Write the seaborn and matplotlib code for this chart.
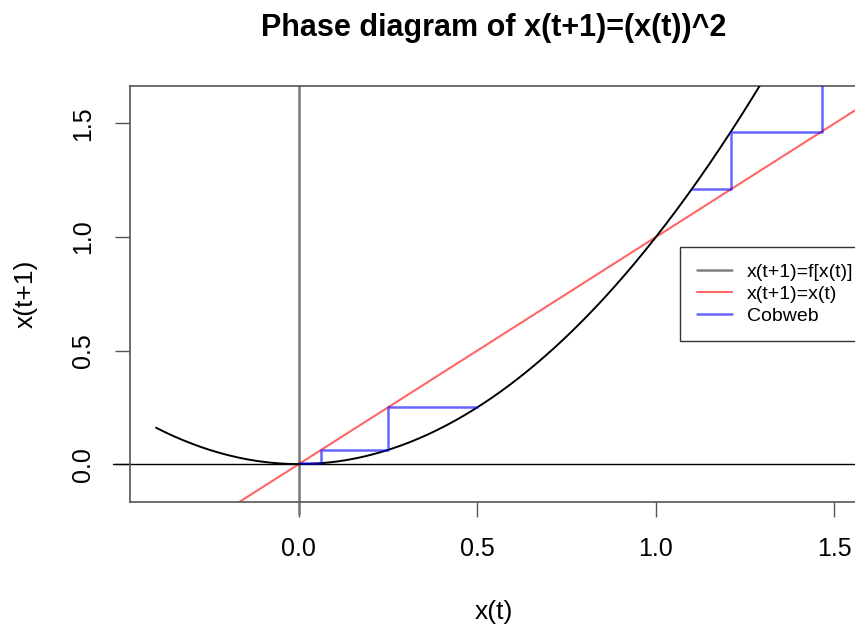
import numpy as np
import pandas as pd
import matplotlib
matplotlib.use("Agg")
import matplotlib.pyplot as plt
import seaborn as sns

# map x(t+1) = x(t)^2 drawn on the domain shown in the picture
x_range = (-0.40, 1.60)
# cobweb vertices (two starting points: 0.5 and 1.1)
cob1_x = [0.5, 0.25, 0.25, 0.0625, 0.0625, 0.0039]
cob1_y = [0.25, 0.25, 0.0625, 0.0625, 0.0039, 0.0039]
cob2_x = [1.1, 1.21, 1.21, 1.4641, 1.4641]
cob2_y = [1.21, 1.21, 1.4641, 1.4641, 2.1436]
x_ticks = [0.0, 0.5, 1.0, 1.5]
y_ticks = [0.0, 0.5, 1.0, 1.5]

sns.set_style("white")
plt.rcParams['font.family'] = ['Liberation Sans', 'DejaVu Sans']
plt.rcParams.update({"text.color": "black", "axes.labelcolor": "black",
                     "xtick.labelcolor": "black", "ytick.labelcolor": "black"})

xs = np.linspace(x_range[0], x_range[1], 400)
curve = pd.DataFrame({"x": xs, "y": xs ** 2})
ident = pd.DataFrame({"x": [-1.0, 2.0], "y": [-1.0, 2.0]})
cob1 = pd.DataFrame({"x": cob1_x, "y": cob1_y})
cob2 = pd.DataFrame({"x": cob2_x, "y": cob2_y})

fig = plt.figure(figsize=(8.55, 6.25), dpi=100)
ax = fig.add_axes([130 / 855, 1 - 502 / 625, (858 - 130) / 855, (502 - 86) / 625])

# reference lines (abline style, slightly overhanging the box like in R)
ax.axvline(0, ymin=-0.03, ymax=1, color="#777777", lw=1.8, zorder=1, clip_on=False)
ax.axhline(0, xmin=-0.024, xmax=1, color="black", lw=1.0, zorder=1, clip_on=False)

sns.lineplot(data=curve, x="x", y="y", ax=ax, color="black", lw=1.4,
             sort=False, estimator=None, zorder=3)
sns.lineplot(data=ident, x="x", y="y", ax=ax, color="red", alpha=0.6, lw=1.5,
             sort=False, estimator=None, zorder=2)
for cob in (cob1, cob2):
    sns.lineplot(data=cob, x="x", y="y", ax=ax, color="blue", alpha=0.6, lw=1.8,
                 sort=False, estimator=None, zorder=4)

ax.set_xlim(-0.473, 1.566)
ax.set_ylim(-0.167, 1.665)
ax.set_xticks(x_ticks)
ax.set_yticks(y_ticks)
ax.set_xticklabels([f"{v:.1f}" for v in x_ticks], fontsize=18)
ax.set_yticklabels([f"{v:.1f}" for v in y_ticks], fontsize=18, rotation=90, va="center")
ax.tick_params(axis="both", direction="out", length=11, width=1, color="#555555",
               pad=14, bottom=True, left=True)
for sp in ax.spines.values():
    sp.set_color("#555555")
    sp.set_linewidth(1.2)

ax.set_xlabel("x(t)", fontsize=19, labelpad=28)
ax.set_ylabel("x(t+1)", fontsize=19, labelpad=24)
fig.text(494 / 855, 1 - 28 / 625, "Phase diagram of x(t+1)=(x(t))^2",
         ha="center", va="center", fontsize=22, fontweight="bold")

handles = [
    plt.Line2D([], [], color="gray", lw=1.8),
    plt.Line2D([], [], color="red", alpha=0.6, lw=1.5),
    plt.Line2D([], [], color="blue", alpha=0.6, lw=1.8),
]
leg = ax.legend(handles, ["x(t+1)=f[x(t)]", "x(t+1)=x(t)", "Cobweb"],
                loc="upper left", bbox_to_anchor=((680 - 130) / 728, (502 - 247) / 416),
                borderaxespad=0, fontsize=14, frameon=True, fancybox=False,
                framealpha=1, edgecolor="#333333", handlelength=1.8,
                handletextpad=0.8, borderpad=0.85, labelspacing=0.22)
leg.get_frame().set_linewidth(1.0)

fig.savefig("out.png", dpi=100)
